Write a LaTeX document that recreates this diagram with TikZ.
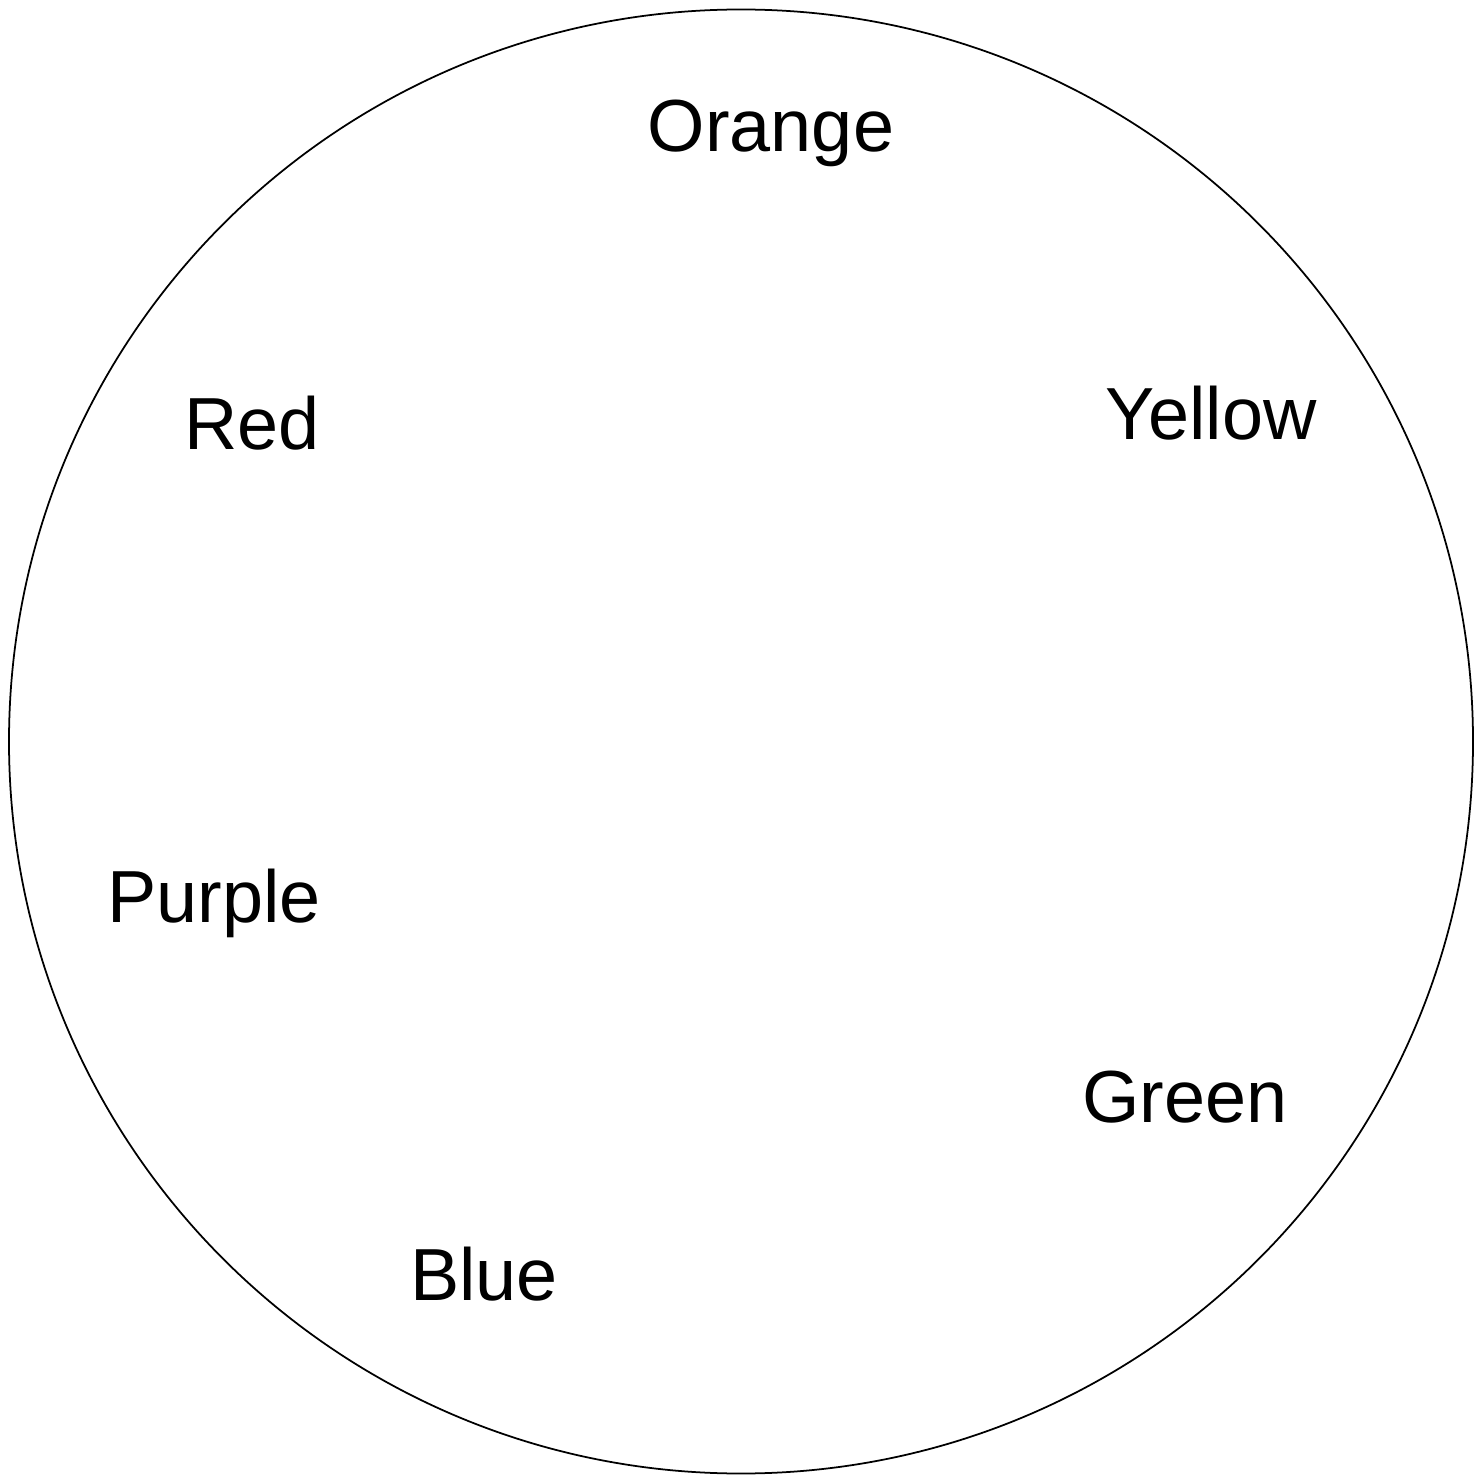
\documentclass[tikz,border=0pt]{standalone}
\usepackage{fontspec}
\setmainfont{Liberation Sans}
\usetikzlibrary{shapes,positioning}
\tikzset{
	wheelline/.style={draw=black, circle, line width=0.5pt, inner sep=0pt},
	colourname/.style={anchor=base, inner sep=0pt, font=\fontsize{21}{25}\selectfont}
}
\begin{document}
\begin{tikzpicture}
		\useasboundingbox (0,0) rectangle (14.84,-14.76);
		\node[wheelline, minimum size=14.64cm] (wheel) at (7.41,-7.415) {};
		\node[colourname] (orange) at (7.71,-1.52) {Orange};
		\node[colourname] (yellow) at (12.11,-4.40) {Yellow};
		\node[colourname] (red) at (2.52,-4.50) {Red};
		\node[colourname] (purple) at (2.14,-9.22) {Purple};
		\node[colourname] (green) at (11.85,-11.22) {Green};
		\node[colourname] (blue) at (4.84,-13.00) {Blue};
	\end{tikzpicture}
\end{document}
